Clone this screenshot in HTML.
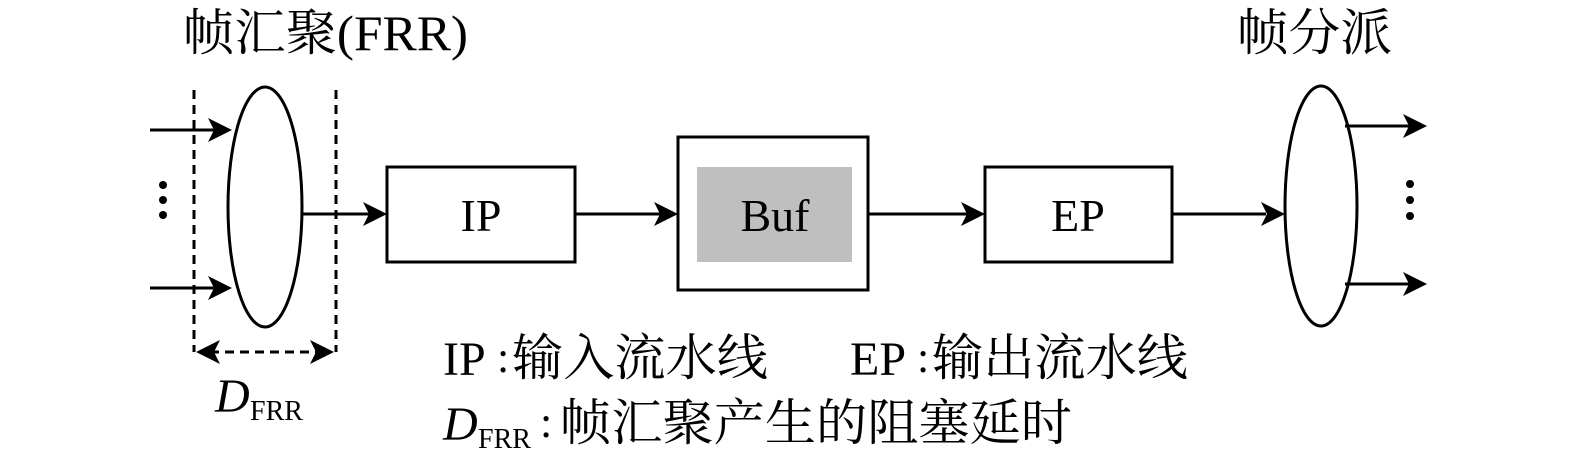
<!DOCTYPE html>
<html><head><meta charset="utf-8"><style>
body{margin:0;background:#fff;}
svg{display:block}
text{font-family:"Liberation Serif","Noto Serif CJK SC","Noto Sans CJK SC",serif;fill:#000}
</style></head><body>
<svg width="1575" height="469" viewBox="0 0 1575 469" xmlns="http://www.w3.org/2000/svg">
<g stroke="#000" stroke-width="3" fill="none">
<ellipse cx="265" cy="207" rx="37" ry="120"/>
<ellipse cx="1321" cy="206" rx="36" ry="120"/>
<line x1="194" y1="90" x2="194" y2="352" stroke-dasharray="9,6"/>
<line x1="336" y1="90" x2="336" y2="352" stroke-dasharray="9,6"/>
<line x1="210" y1="352" x2="320" y2="352" stroke-dasharray="9,6"/>
<rect x="387" y="167" width="188" height="95"/>
<rect x="678" y="137" width="190" height="153"/>
<rect x="985" y="167" width="187" height="95"/>
<line x1="150" y1="130" x2="215" y2="130"/>
<line x1="150" y1="288" x2="215" y2="288"/>
<line x1="302" y1="214" x2="370" y2="214"/>
<line x1="575" y1="214" x2="662" y2="214"/>
<line x1="868" y1="214" x2="968" y2="214"/>
<line x1="1172" y1="214" x2="1266" y2="214"/>
<line x1="1345" y1="126" x2="1410" y2="126"/>
<line x1="1345" y1="284" x2="1410" y2="284"/>
</g>
<rect x="697" y="167" width="155" height="95" fill="#bfbfbf"/>
<g fill="#000">
<polygon points="232,130 208,118 214,130 208,142"/>
<polygon points="232,288 208,276 214,288 208,300"/>
<polygon points="387,214 363,202 369,214 363,226"/>
<polygon points="678,214 654,202 660,214 654,226"/>
<polygon points="985,214 961,202 967,214 961,226"/>
<polygon points="1285,214 1261,202 1267,214 1261,226"/>
<polygon points="1427,126 1403,114 1409,126 1403,138"/>
<polygon points="1427,284 1403,272 1409,284 1403,296"/>
<polygon points="196,352 220,340 214,352 220,364"/>
<polygon points="334,352 310,340 316,352 310,364"/>
<circle cx="163" cy="185" r="4"/><circle cx="163" cy="200" r="4"/><circle cx="163" cy="215" r="4"/>
<circle cx="1410" cy="184" r="4"/><circle cx="1410" cy="200" r="4"/><circle cx="1410" cy="216" r="4"/>
</g>
<text x="183" y="50" font-size="50" textLength="285" lengthAdjust="spacingAndGlyphs">帧汇聚(FRR)</text>
<text x="1237" y="50" font-size="50" textLength="155" lengthAdjust="spacingAndGlyphs">帧分派</text>
<text x="481" y="231" font-size="46" text-anchor="middle">IP</text>
<text x="775" y="231" font-size="46" text-anchor="middle">Buf</text>
<text x="1078" y="231" font-size="46" text-anchor="middle">EP</text>
<text x="215" y="412" font-size="48" font-style="italic">D</text>
<text x="250" y="420" font-size="28">FRR</text>
<text x="443" y="375" font-size="48">IP</text>
<text x="497" y="372" font-size="44">:</text>
<text x="512" y="375" font-size="50" textLength="256" lengthAdjust="spacingAndGlyphs">输入流水线</text>
<text x="850" y="375" font-size="48">EP</text>
<text x="917" y="372" font-size="44">:</text>
<text x="932" y="375" font-size="50" textLength="256" lengthAdjust="spacingAndGlyphs">输出流水线</text>
<text x="443" y="440" font-size="48" font-style="italic">D</text>
<text x="478" y="448" font-size="28">FRR</text>
<text x="540" y="437" font-size="44">:</text>
<text x="560" y="440" font-size="50" textLength="512" lengthAdjust="spacingAndGlyphs">帧汇聚产生的阻塞延时</text>
</svg>
</body></html>
